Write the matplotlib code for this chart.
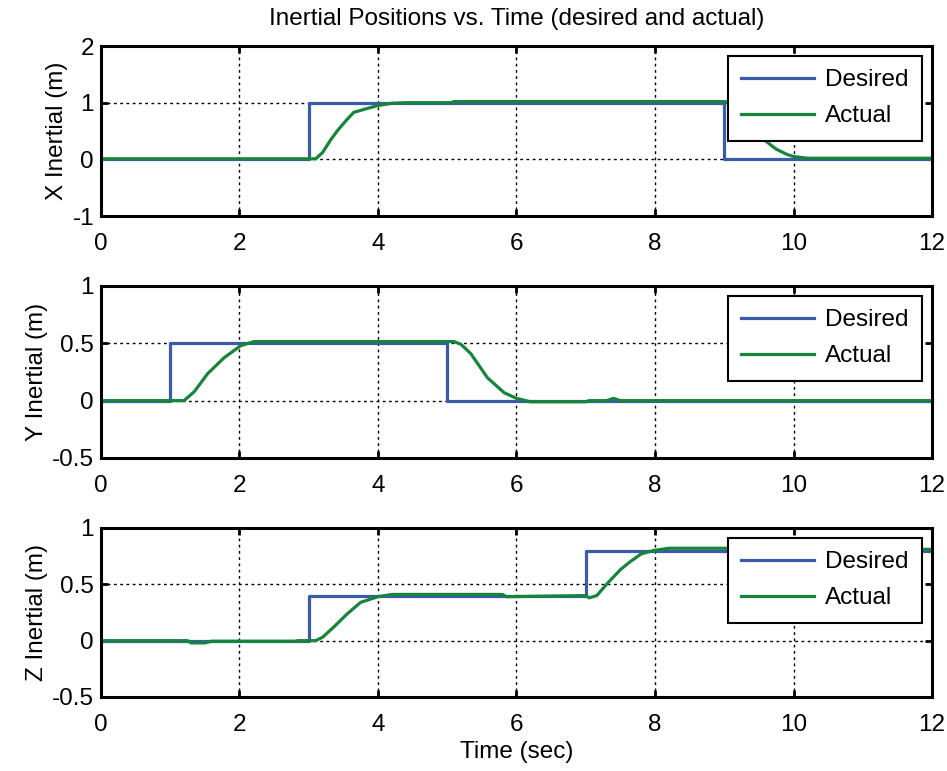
import matplotlib
matplotlib.use("Agg")
import matplotlib.pyplot as plt
from matplotlib.ticker import FormatStrFormatter

plt.rcParams['font.family'] = ['Liberation Sans', 'DejaVu Sans']
plt.rcParams['axes.unicode_minus'] = False

# desired step commands
t_des_x = [0, 3, 3, 9, 9, 12]
x_des = [0, 0, 1, 1, 0, 0]
t_des_y = [0, 1, 1, 5, 5, 12]
y_des = [0, 0, 0.5, 0.5, 0, 0]
t_des_z = [0, 3, 3, 7, 7, 12]
z_des = [0, 0, 0.4, 0.4, 0.8, 0.8]

# actual response
t_act_x = [0, 3.1, 3.2, 3.32, 3.43, 3.55, 3.65, 3.85, 4.0, 4.2, 4.4, 5.05, 5.1,
           9.0, 9.1, 9.25, 9.4, 9.57, 9.75, 9.9, 10.0, 10.2, 12]
x_act = [0.01, 0.01, 0.12, 0.35, 0.53, 0.7, 0.83, 0.9, 0.95, 0.99, 1.0, 1.0, 1.02,
         1.02, 1.0, 0.85, 0.6, 0.35, 0.18, 0.09, 0.05, 0.02, 0.02]
t_act_y = [0, 1.2, 1.35, 1.54, 1.78, 2.02, 2.21, 5.1, 5.2, 5.34, 5.58, 5.82, 6.0,
           6.2, 7.0, 7.05, 7.3, 7.4, 7.5, 12]
y_act = [0, 0, 0.08, 0.235, 0.375, 0.48, 0.515, 0.515, 0.49, 0.41, 0.2, 0.07, 0.02,
         -0.01, -0.01, 0, 0, 0.02, 0, 0]
t_act_z = [0, 1.25, 1.3, 1.5, 1.6, 2.8, 2.85, 3.1, 3.2, 3.36, 3.56, 3.75, 4.0, 4.2,
           5.8, 5.85, 7.0, 7.05, 7.16, 7.3, 7.5, 7.64, 7.8, 7.98, 8.2, 9.0, 12]
z_act = [0, 0, -0.02, -0.02, -0.005, -0.005, 0, 0, 0.03, 0.12, 0.24, 0.34, 0.39, 0.41,
         0.41, 0.39, 0.4, 0.38, 0.4, 0.5, 0.63, 0.7, 0.77, 0.8, 0.82, 0.82, 0.81]

blue = '#3b5ba9'
green = '#17843c'
fs = 17.5

fig = plt.figure(figsize=(9.47, 7.71), dpi=100)
rects = [[0.1066, 0.7198, 0.8776, 0.2205],
         [0.1066, 0.4060, 0.8776, 0.2231],
         [0.1066, 0.0960, 0.8776, 0.2192]]
panels = [
    (t_des_x, x_des, t_act_x, x_act, (-1, 2), [-1, 0, 1, 2], 'X Inertial (m)'),
    (t_des_y, y_des, t_act_y, y_act, (-0.5, 1), [-0.5, 0, 0.5, 1], 'Y Inertial (m)'),
    (t_des_z, z_des, t_act_z, z_act, (-0.5, 1), [-0.5, 0, 0.5, 1], 'Z Inertial (m)'),
]

for i, (td, yd, ta, ya, ylim, yt, lab) in enumerate(panels):
    ax = fig.add_axes(rects[i])
    ax.plot(td, yd, color=blue, lw=2.3, label='Desired')
    ax.plot(ta, ya, color=green, lw=2.3, label='Actual')
    ax.set_xlim(0, 12)
    ax.set_ylim(*ylim)
    ax.set_xticks(range(0, 13, 2))
    ax.set_yticks(yt)
    ax.yaxis.set_major_formatter(FormatStrFormatter('%g'))
    ax.grid(True, color='black', linestyle=(0, (2, 2.5)), lw=1)
    ax.tick_params(direction='in', length=5, width=2, labelsize=fs,
                   top=True, right=True)
    ax.tick_params(axis='x', pad=12)
    ax.tick_params(axis='y', pad=5)
    for s in ax.spines.values():
        s.set_linewidth(2.2)
    ax.set_ylabel(lab, fontsize=fs, labelpad=3)
    leg = ax.legend(loc='upper right', fontsize=fs, handlelength=3.0,
                    handletextpad=0.45, borderaxespad=0.4, fancybox=False,
                    framealpha=1, edgecolor='black', borderpad=0.56,
                    labelspacing=0.57)
    leg.get_frame().set_linewidth(1.5)
    if i == 0:
        ax.set_title('Inertial Positions vs. Time (desired and actual)',
                     fontsize=fs, pad=15)
    if i == 2:
        ax.set_xlabel('Time (sec)', fontsize=fs, labelpad=4)

fig.savefig('out.png', dpi=100)
